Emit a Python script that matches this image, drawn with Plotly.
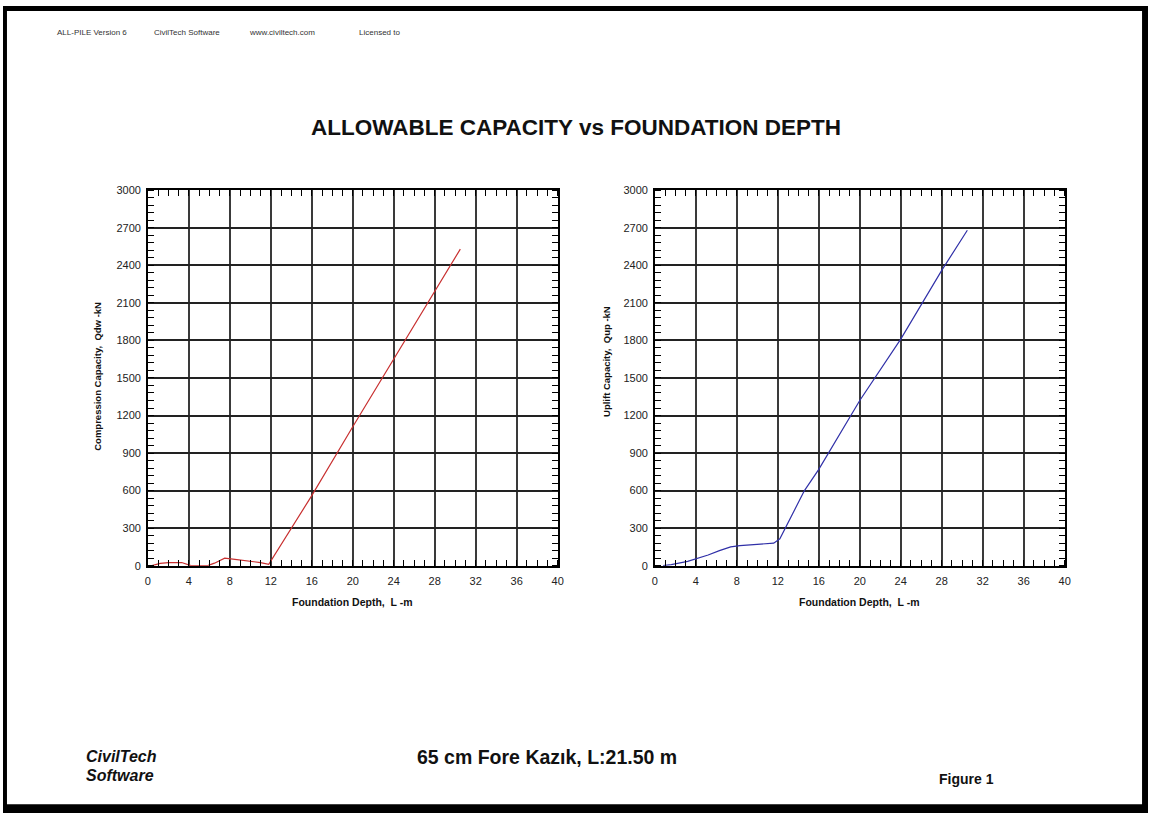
import plotly.graph_objects as go

# Compression capacity vs depth (left panel)
depth_cmp = [0.4, 1.2, 2.0, 3.3, 4.2, 5.0, 5.9, 6.5, 7.5, 8.5, 9.5, 11.0, 11.8, 16.0, 20.0, 24.0, 28.0, 30.5]
cap_cmp = [0, 18, 25, 25, 0, 0, 2, 20, 60, 50, 40, 25, 10, 560, 1110, 1650, 2200, 2530]

# Uplift capacity vs depth (right panel)
depth_up = [0.8, 1.6, 3.2, 4.5, 5.2, 6.3, 7.4, 8.3, 10.0, 11.6, 12.2, 14.6, 16.0, 20.0, 24.0, 28.0, 30.5]
cap_up = [0, 8, 35, 65, 85, 120, 150, 160, 170, 180, 215, 600, 770, 1320, 1810, 2360, 2680]

x_ticks = list(range(0, 41, 4))
y_ticks = list(range(0, 3001, 300))

W, H = 1154, 819
FONT = "Liberation Sans, Arial, sans-serif"


def px(x):
    return x / W


def py(y):
    return 1 - y / H


fig = go.Figure()
fig.add_trace(go.Scatter(x=depth_cmp, y=cap_cmp, mode="lines",
                         line=dict(color="#c83030", width=1.2),
                         xaxis="x", yaxis="y", showlegend=False))
fig.add_trace(go.Scatter(x=depth_up, y=cap_up, mode="lines",
                         line=dict(color="#3030a8", width=1.2),
                         xaxis="x2", yaxis="y2", showlegend=False))


def xaxis(domain, anchor):
    return dict(domain=domain, anchor=anchor, range=[0, 40],
                tickvals=x_ticks, ticks="", showline=True, linecolor="black",
                linewidth=1.5, mirror="allticks", showgrid=True,
                gridcolor="#3a3a3a", gridwidth=1.5, zeroline=False,
                tickfont=dict(family=FONT, size=11, color="#222"),
                ticklabelstandoff=4,
                minor=dict(dtick=1, ticks="inside", ticklen=6,
                           tickcolor="black", tickwidth=1.2, showgrid=False))


def yaxis(domain, anchor):
    return dict(domain=domain, anchor=anchor, range=[0, 3000],
                tickvals=y_ticks, ticks="", showline=True, linecolor="black",
                linewidth=1.5, mirror="allticks", showgrid=True,
                gridcolor="#222222", gridwidth=1.5, zeroline=False,
                tickfont=dict(family=FONT, size=11, color="#222"),
                ticklabelstandoff=3,
                minor=dict(dtick=60, ticks="inside", ticklen=6,
                           tickcolor="black", tickwidth=1.2, showgrid=False))


ydom = [py(568), py(187)]
fig.update_layout(
    width=W, height=H,
    margin=dict(l=0, r=0, t=0, b=0),
    paper_bgcolor="white", plot_bgcolor="white",
    xaxis=xaxis([px(146), px(559)], "y"),
    yaxis=yaxis(ydom, "x"),
    xaxis2=xaxis([px(657), px(1070)], "y2"),
    yaxis2=yaxis(ydom, "x2"),
)

# Page frame
frame = [(0, 0, 1154, 5), (0, 0, 4, 819), (1148, 0, 1154, 819), (0, 810, 1154, 819)]
for x0, y0, x1, y1 in frame:
    fig.add_shape(type="rect", xref="paper", yref="paper",
                  x0=px(x0), x1=px(x1), y0=py(y0), y1=py(y1),
                  fillcolor="black", line=dict(width=0))


def note(text, x, y, size, color="#111", xanchor="left", angle=0):
    fig.add_annotation(text=text, x=px(x), y=py(y), xref="paper", yref="paper",
                       xanchor=xanchor, yanchor="middle", showarrow=False,
                       textangle=angle,
                       font=dict(family=FONT, size=size, color=color))


# Header line
note("ALL-PILE Version 6", 52, 27, 8, "#333")
note("CivilTech Software", 150, 27, 8, "#333")
note("www.civiltech.com", 246, 27, 8, "#333")
note("Licensed to", 357, 27, 8, "#333")

# Title
note("<b>ALLOWABLE CAPACITY vs FOUNDATION DEPTH</b>", 578, 123, 22.5, "#111", "center")

# Axis titles
note("<b>Foundation Depth,\u00a0\u00a0L -m</b>", 352, 605, 10.5, "#111", "center")
note("<b>Foundation Depth,\u00a0\u00a0L -m</b>", 863, 605, 10.5, "#111", "center")
note("<b>Compression Capacity,\u00a0\u00a0Qdw -kN</b>", 95, 376, 9.5, "#111", "center", -90)
note("<b>Uplift Capacity,\u00a0\u00a0Qup -kN</b>", 608, 361, 9.5, "#111", "center", -90)

# Footer
note("<b><i>CivilTech</i></b>", 82, 762, 16, "#111")
note("<b><i>Software</i></b>", 82, 781, 16, "#111")
note("<b>65 cm Fore Kazık, L:21.50 m</b>", 548, 762, 19.5, "#111", "center")
note("<b>Figure 1</b>", 941, 784, 14, "#111")

fig.write_html("out.html")
